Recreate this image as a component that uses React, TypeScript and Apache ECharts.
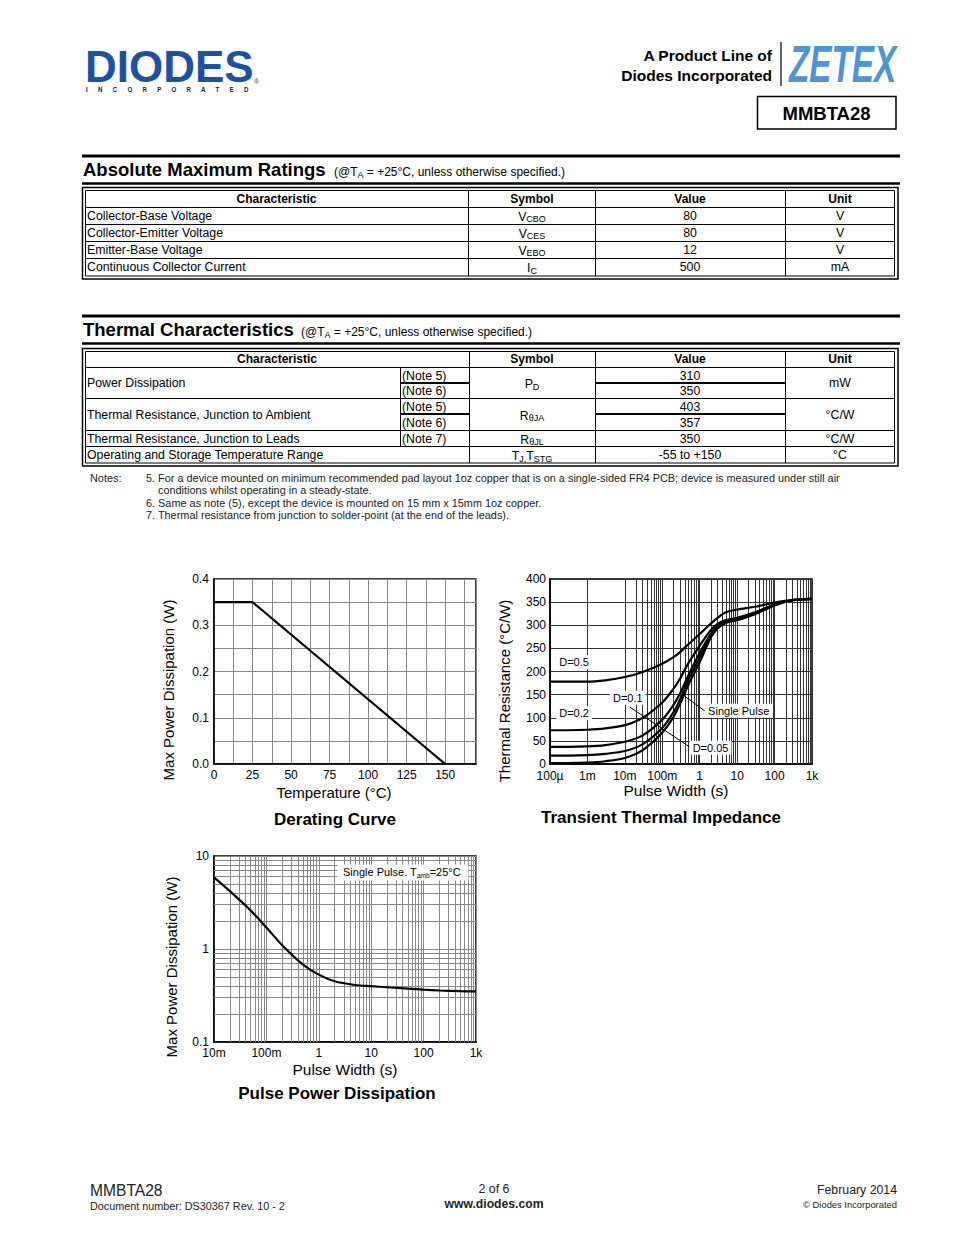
import React, { useEffect, useRef } from "react";
import * as echarts from "echarts";

const FONT = '"Liberation Sans", Arial, Helvetica, sans-serif';

// ---------- Table data ----------
const absRowChar = ["Collector-Base Voltage", "Collector-Emitter Voltage", "Emitter-Base Voltage", "Continuous Collector Current"];
const absRowSymbol = ["{m|V}{s|CBO}", "{m|V}{s|CES}", "{m|V}{s|EBO}", "{m|I}{s|C}"];
const absRowValue = ["80", "80", "12", "500"];
const absRowUnit = ["V", "V", "V", "mA"];

const thRowChar = ["Power Dissipation", "Thermal Resistance, Junction to Ambient", "Thermal Resistance, Junction to Leads", "Operating and Storage Temperature Range"];
const thRowNotes = [["(Note 5)", "(Note 6)"], ["(Note 5)", "(Note 6)"], ["(Note 7)"], []];
const thRowSymbol = ["{m|P}{s|D}", "{m|R}{s|θJA}", "{m|R}{s|θJL}", "{m|T}{s|J,}{m|T}{s|STG}"];
const thRowValue = [["310", "350"], ["403", "357"], ["350"], ["-55 to +150"]];
const thRowUnit = ["mW", "°C/W", "°C/W", "°C"];

const notesLines = [
  "5. For a device mounted on minimum recommended pad layout 1oz copper that is on a single-sided FR4 PCB; device is measured under still air",
  "conditions whilst operating in a steady-state.",
  "6. Same as note (5), except the device is mounted on 15 mm x 15mm 1oz copper.",
  "7. Thermal resistance from junction to solder-point (at the end of the leads).",
];

// ---------- Chart data ----------
const deratingTemp = [0, 25, 150];
const deratingPower = [0.35, 0.35, 0];

const pulseWidthT = [1e-4, 3e-4, 1e-3, 3e-3, 1e-2, 3e-2, 0.1, 0.2, 0.3, 0.5, 1, 2, 3, 5, 10, 30, 100, 300, 1000];
const zD05 = [178, 178, 178, 181, 188, 199, 217, 231, 242, 259, 281, 304, 316, 328, 334, 340, 349, 355, 357];
const zD02 = [73, 73, 74, 77, 84, 100, 133, 163, 185, 218, 256, 290, 303, 311, 316, 328, 345, 354, 357];
const zD01 = [37, 37, 38, 41, 48, 62, 96, 128, 153, 192, 240, 282, 298, 308, 313, 326, 344, 354, 357];
const zD005 = [18, 18, 19, 22, 28, 43, 78, 112, 140, 182, 230, 278, 296, 307, 312, 325, 344, 354, 357];
const zSingle = [2, 2, 3, 6, 13, 30, 68, 102, 130, 172, 220, 274, 293, 305, 311, 324, 343, 354, 357];

const pulseWidthP = [0.01, 0.02, 0.05, 0.1, 0.2, 0.5, 1, 2, 5, 10, 20, 50, 100, 200, 500, 1000];
const pulsePower = [5.9, 4.2, 2.6, 1.7, 1.1, 0.68, 0.53, 0.45, 0.41, 0.398, 0.388, 0.375, 0.365, 0.358, 0.352, 0.35];

const logTickLabels: Record<string, string> = {
  "-4": "100µ", "-3": "1m", "-2": "10m", "-1": "100m", "0": "1", "1": "10", "2": "100", "3": "1k",
};
const pulseYLabels: Record<string, string> = { "-1": "0.1", "0": "1", "1": "10" };

// annotation labels in data coordinates (transient chart)
const transientLabels = [
  { text: "D=0.5", at: [4.4e-4, 220] },
  { text: "D=0.2", at: [4.4e-4, 110] },
  { text: "D=0.1", at: [0.012, 143] },
  { text: "Single Pulse", at: [11, 115] },
  { text: "D=0.05", at: [1.95, 35] },
];
const transientLeaders = [
  [[0.0136, 123], [0.54, 37]],
  [[1.36, 115], [0.42, 145]],
];

function buildOption() {
  const G: any[] = [];
  const T = (x: number, y: number, text: string, o: any = {}) => {
    const el: any = {
      type: "text",
      x,
      y,
      silent: true,
      z: 10,
      rotation: o.rot || 0,
      scaleX: o.scaleX || 1,
      style: {
        text,
        fill: o.fill || "#000",
        fontSize: o.size || 12,
        fontWeight: o.weight || "normal",
        fontStyle: o.italic ? "italic" : "normal",
        fontFamily: FONT,
        align: o.align || "left",
        textAlign: o.align || "left",
        verticalAlign: "middle",
        textVerticalAlign: "middle",
      },
    };
    if (o.rich) el.style.rich = o.rich;
    G.push(el);
  };
  const L = (x1: number, y1: number, x2: number, y2: number, w = 1, c = "#000") =>
    G.push({ type: "line", silent: true, z: 9, shape: { x1, y1, x2, y2 }, style: { stroke: c, lineWidth: w } });
  const R = (x: number, y: number, w: number, h: number, lw = 1, stroke = "#000", fill: any = "none") =>
    G.push({ type: "rect", silent: true, z: 8, shape: { x, y, width: w, height: h }, style: { stroke, lineWidth: lw, fill } });

  const BODY = 12.3;
  const symRich = {
    m: { fontSize: BODY, fontFamily: FONT, fill: "#000", lineHeight: 14 },
    s: { fontSize: 9, fontFamily: FONT, fill: "#000", lineHeight: 6, verticalAlign: "bottom" },
  };
  const noteRich = {
    m: { fontSize: 12, fontFamily: FONT, fill: "#000", lineHeight: 14 },
    s: { fontSize: 9, fontFamily: FONT, fill: "#000", lineHeight: 7, verticalAlign: "bottom" },
  };

  // ---------- Header ----------
  T(85, 66, "DIODES", { size: 44, weight: "bold", fill: "#1e52a0" });
  L(86, 67.5, 252, 67.5, 1.2, "#fff");
  T(254, 81, "®", { size: 7, fill: "#1e52a0" });
  T(86, 89, "I      N      C      O      R      P      O      R      A      T      E      D", {
    size: 6.5, weight: "bold", fill: "#222", scaleX: 0.95,
  });

  T(772, 55, "A Product Line of", { size: 15.5, weight: "bold", align: "right" });
  T(772, 75, "Diodes Incorporated", { size: 15.5, weight: "bold", align: "right" });
  L(781, 42, 781, 86, 1.5, "#333");
  T(789, 64, "ZETEX", { size: 52, weight: "bold", italic: true, fill: "#4d94d8", scaleX: 0.64 });
  R(757.5, 96.5, 138.5, 32.5, 1.5);
  T(826.5, 113, "MMBTA28", { size: 18.5, weight: "bold", align: "center" });

  // ---------- Absolute Maximum Ratings ----------
  L(82, 156, 900, 156, 3);
  T(83, 169.5, "Absolute Maximum Ratings", { size: 18.5, weight: "bold" });
  T(334, 172, "{m|(@T}{s|A}{m| = +25°C, unless otherwise specified.)}", { rich: noteRich });
  L(82, 183.5, 900, 183.5, 2.5);

  R(82.5, 187.5, 815.5, 91.5, 1.5);
  R(85.5, 190.5, 809, 85.5, 1);
  [468.5, 595.5, 785.5].forEach((x) => L(x, 190.5, x, 276, 1));
  [207.5, 224.5, 241.5, 258.5].forEach((y) => L(85.5, y, 894.5, y, 1));
  const absCenters = [215.5, 232.5, 249.5, 267];
  T(276.5, 199, "Characteristic", { weight: "bold", align: "center" });
  T(532, 199, "Symbol", { weight: "bold", align: "center" });
  T(690, 199, "Value", { weight: "bold", align: "center" });
  T(840, 199, "Unit", { weight: "bold", align: "center" });
  absRowChar.forEach((c, i) => {
    const y = absCenters[i];
    T(87, y, c, { size: BODY });
    T(532, y + 1, absRowSymbol[i], { align: "center", rich: symRich });
    T(690, y, absRowValue[i], { align: "center", size: BODY });
    T(840, y, absRowUnit[i], { align: "center", size: BODY });
  });

  // ---------- Thermal Characteristics ----------
  L(82, 316, 900, 316, 3);
  T(83, 329.5, "Thermal Characteristics", { size: 18.5, weight: "bold" });
  T(301, 332, "{m|(@T}{s|A}{m| = +25°C, unless otherwise specified.)}", { rich: noteRich });
  L(82, 343.5, 900, 343.5, 2.5);

  R(82.5, 348.5, 815.5, 117.5, 1.5);
  R(85.5, 351.5, 809, 111.5, 1);
  const subTops = [367, 383, 398, 414, 430, 446, 463];
  const groupRows = [[0, 1], [2, 3], [4], [5]];
  [469.5, 595.5, 785.5].forEach((x) => L(x, 351.5, x, 463, 1));
  L(400.5, 367, 400.5, 446, 1);
  [367.5, 398.5, 430.5, 446.5].forEach((y) => L(85.5, y, 894.5, y, 1));
  [383, 414].forEach((y) => {
    L(400.5, y, 469.5, y, 2);
    L(595.5, y, 785.5, y, 2);
  });
  T(277, 359, "Characteristic", { weight: "bold", align: "center" });
  T(532, 359, "Symbol", { weight: "bold", align: "center" });
  T(690, 359, "Value", { weight: "bold", align: "center" });
  T(840, 359, "Unit", { weight: "bold", align: "center" });
  thRowChar.forEach((c, g) => {
    const rows = groupRows[g];
    const top = subTops[rows[0]];
    const bot = subTops[rows[rows.length - 1] + 1];
    const cy = (top + bot) / 2 + 0.5;
    T(87, cy, c, { size: BODY });
    thRowNotes[g].forEach((n, k) => {
      const r = rows[k];
      T(402, (subTops[r] + subTops[r + 1]) / 2 + 0.5, n, { size: BODY });
    });
    T(532, cy + 1, thRowSymbol[g], { align: "center", rich: symRich });
    thRowValue[g].forEach((v, k) => {
      const r = rows[k];
      const vy = thRowValue[g].length === 1 ? cy : (subTops[r] + subTops[r + 1]) / 2 + 0.5;
      T(690, vy, v, { align: "center", size: BODY });
    });
    T(840, cy, thRowUnit[g], { align: "center", size: BODY });
  });

  // ---------- Notes ----------
  T(90, 478, "Notes:", { size: 10.9, fill: "#222" });
  const noteX = [146, 158, 146, 146];
  const noteY = [478, 490, 503, 515];
  notesLines.forEach((s, i) => T(noteX[i], noteY[i], s, { size: 10.9, fill: "#222" }));

  // ---------- Chart titles ----------
  T(335, 819, "Derating Curve", { size: 17, weight: "bold", align: "center" });
  T(661, 817, "Transient Thermal Impedance", { size: 17, weight: "bold", align: "center" });
  T(337, 1093, "Pulse Power Dissipation", { size: 17, weight: "bold", align: "center" });

  // axis titles
  T(168, 690, "Max Power Dissipation (W)", { size: 15, align: "center", rot: Math.PI / 2 });
  T(334, 792, "Temperature (°C)", { size: 15, align: "center" });
  T(504, 691, "Thermal Resistance (°C/W)", { size: 15, align: "center", rot: Math.PI / 2 });
  T(676, 790, "Pulse Width (s)", { size: 15.5, align: "center" });
  T(171, 967, "Max Power Dissipation (W)", { size: 15, align: "center", rot: Math.PI / 2 });
  T(345, 1069, "Pulse Width (s)", { size: 15.5, align: "center" });

  // pulse chart legend box
  R(337.5, 864.5, 131, 16, 0, "#fff", "#fff");
  T(343, 872, "{a|Single Pulse. T}{b|amb}{a|=25°C}", {
    rich: {
      a: { fontSize: 11, fontFamily: FONT, fill: "#000", lineHeight: 14 },
      b: { fontSize: 6.5, fontFamily: FONT, fill: "#000", lineHeight: 4, verticalAlign: "bottom" },
    },
  });

  // ---------- Footer ----------
  T(90, 1190, "MMBTA28", { size: 15.6, fill: "#222" });
  T(90, 1206, "Document number: DS30367 Rev. 10 - 2", { size: 10.8, fill: "#222" });
  T(494, 1189, "2 of 6", { size: 12.3, fill: "#222", align: "center" });
  T(494, 1204, "www.diodes.com", { size: 12.2, weight: "bold", fill: "#222", align: "center" });
  T(897, 1190, "February 2014", { size: 12.3, fill: "#222", align: "right" });
  T(897, 1204, "© Diodes Incorporated", { size: 9.4, fill: "#222", align: "right" });

  // ---------- axes ----------
  const axisCommon = (gridIndex: number, extra: any) => ({
    gridIndex,
    axisLine: { show: true, onZero: false, lineStyle: { color: "#000", width: 1.5 } },
    axisTick: { show: false },
    splitLine: { show: true, lineStyle: { color: "#888", width: 1 } },
    ...extra,
  });
  const lbl = (margin: number, formatter: any) => ({
    color: "#000", fontSize: 12, fontFamily: FONT, margin, formatter, showMinLabel: true, showMaxLabel: true,
  });
  const logFmt = (v: number) => logTickLabels[String(Math.round(Math.log10(v)))] || "";

  const minorLog = (axis: string, from: number, to: number) => {
    const d: any[] = [];
    for (let e = from; e < to; e++) for (let k = 2; k <= 9; k++) d.push({ [axis]: k * Math.pow(10, e) });
    return d;
  };
  const gridMark = (data: any[], color: string) => ({
    silent: true,
    z: 1,
    symbol: ["none", "none"],
    label: { show: false },
    emphasis: { disabled: true },
    animation: false,
    lineStyle: { color, width: 1, type: "solid" },
    data,
  });
  const curve = (name: string, xs: number[], ys: number[], xi: number, smooth: any) => ({
    type: "line",
    name,
    xAxisIndex: xi,
    yAxisIndex: xi,
    data: xs.map((x, i) => [x, ys[i]]),
    smooth,
    symbol: "none",
    showSymbol: false,
    silent: true,
    z: 4,
    lineStyle: { color: "#000", width: 2.2 },
  });

  return {
    animation: false,
    backgroundColor: "#fff",
    textStyle: { fontFamily: FONT },
    grid: [
      { left: 214, top: 579, width: 262, height: 185, show: true, borderColor: "#000", borderWidth: 1.5, backgroundColor: "transparent" },
      { left: 550, top: 579, width: 262, height: 185, show: true, borderColor: "#000", borderWidth: 1.5, backgroundColor: "transparent" },
      { left: 214, top: 856, width: 262, height: 186, show: true, borderColor: "#000", borderWidth: 1.5, backgroundColor: "transparent" },
    ],
    xAxis: [
      axisCommon(0, {
        type: "value", min: 0, max: 170, interval: 12.5,
        axisLabel: lbl(5, (v: number) => (Math.abs(v % 25) < 1e-9 && v <= 150 ? String(v) : "")),
      }),
      axisCommon(1, {
        type: "log", logBase: 10, min: 1e-4, max: 1e3,
        splitLine: { show: true, lineStyle: { color: "#333", width: 1 } },
        axisLabel: lbl(6, logFmt),
      }),
      axisCommon(2, {
        type: "log", logBase: 10, min: 0.01, max: 1000,
        axisLabel: lbl(5, logFmt),
      }),
    ],
    yAxis: [
      axisCommon(0, {
        type: "value", min: 0, max: 0.4, interval: 0.05,
        axisLabel: lbl(5, (v: number) => (Math.abs(v * 10 - Math.round(v * 10)) < 1e-6 ? v.toFixed(1) : "")),
      }),
      axisCommon(1, {
        type: "value", min: 0, max: 400, interval: 50,
        splitLine: { show: true, lineStyle: { color: "#333", width: 1 } },
        axisLabel: lbl(4, (v: number) => String(v)),
      }),
      axisCommon(2, {
        type: "log", logBase: 10, min: 0.1, max: 10,
        axisLabel: lbl(5, (v: number) => pulseYLabels[String(Math.round(Math.log10(v)))] || ""),
      }),
    ],
    series: [
      // minor grid lines
      { type: "line", xAxisIndex: 1, yAxisIndex: 1, data: [], silent: true, z: 1, markLine: gridMark(minorLog("xAxis", -4, 3), "#333") },
      { type: "line", xAxisIndex: 2, yAxisIndex: 2, data: [], silent: true, z: 1, markLine: gridMark([...minorLog("xAxis", -2, 3), ...minorLog("yAxis", -1, 1)], "#888") },
      // derating
      curve("Derating", deratingTemp, deratingPower, 0, false),
      // transient
      curve("D=0.5", pulseWidthT, zD05, 1, 0.3),
      curve("D=0.2", pulseWidthT, zD02, 1, 0.3),
      curve("D=0.1", pulseWidthT, zD01, 1, 0.3),
      curve("D=0.05", pulseWidthT, zD005, 1, 0.3),
      curve("Single Pulse", pulseWidthT, zSingle, 1, 0.3),
      // transient annotations
      {
        type: "line", xAxisIndex: 1, yAxisIndex: 1, data: [], silent: true, z: 6,
        markLine: {
          silent: true, z: 6, symbol: ["none", "none"], label: { show: false }, animation: false,
          lineStyle: { color: "#000", width: 1, type: "solid" },
          data: transientLeaders.map((seg) => [{ coord: seg[0] }, { coord: seg[1] }]),
        },
        markPoint: {
          silent: true, z: 7, animation: false, symbol: "rect", symbolSize: [1, 1],
          itemStyle: { color: "rgba(0,0,0,0)" },
          data: transientLabels.map((l) => ({
            coord: l.at,
            label: {
              show: true, position: "inside", formatter: l.text, color: "#000", fontSize: 11, fontFamily: FONT,
              backgroundColor: "#fff", padding: [2, 3, 1, 3],
            },
          })),
        },
      },
      // pulse power
      curve("Pulse", pulseWidthP, pulsePower, 2, 0.3),
    ],
    graphic: { elements: G },
  };
}

export default function App() {
  const ref = useRef<HTMLDivElement>(null);
  useEffect(() => {
    const chart = echarts.init(ref.current as HTMLDivElement, null, { renderer: "svg", width: 954, height: 1235 });
    chart.setOption(buildOption() as any);
    return () => chart.dispose();
  }, []);
  return <div ref={ref} style={{ position: "absolute", left: 0, top: 0, width: 954, height: 1235, background: "#fff" }} />;
}
